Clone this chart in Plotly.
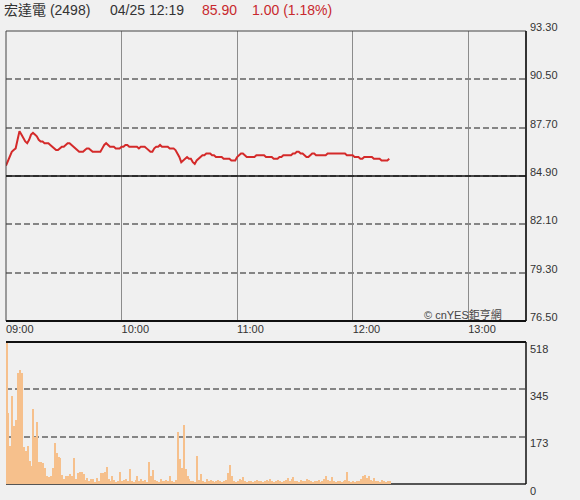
import plotly.graph_objects as go
import pandas as pd

# ---------------- data ----------------
stock_name = "宏達電 (2498)"
quote_time = "04/25 12:19"
last_price = "85.90"
change_text = "1.00 (1.18%)"
copyright_text = "© cnYES鉅亨網"
prev_close = 84.90
session_start = "2024-04-25 09:00"
session_end = "2024-04-25 13:30"
price_ticks = [76.50, 79.30, 82.10, 84.90, 87.70, 90.50, 93.30]
volume_ticks = [0, 173, 345, 518]
time_tick_labels = ["09:00", "10:00", "11:00", "12:00", "13:00"]

prices = [
    85.5, 85.8, 86.1, 86.3, 86.4, 86.5, 87.0, 87.5, 87.3, 87.1,
    86.9, 86.8, 87.0, 87.3, 87.4, 87.3, 87.2, 87.0, 86.9, 86.9,
    86.8, 86.8, 86.8, 86.7, 86.6, 86.5, 86.4, 86.4, 86.5, 86.6,
    86.6, 86.7, 86.8, 86.8, 86.7, 86.6, 86.5, 86.4, 86.3, 86.3,
    86.3, 86.4, 86.5, 86.5, 86.4, 86.3, 86.3, 86.3, 86.3, 86.3,
    86.5, 86.7, 86.8, 86.7, 86.6, 86.6, 86.6, 86.5, 86.5, 86.5,
    86.6, 86.6, 86.7, 86.7, 86.6, 86.6, 86.6, 86.6, 86.6, 86.5,
    86.6, 86.6, 86.6, 86.5, 86.4, 86.3, 86.3, 86.5, 86.6, 86.6,
    86.7, 86.6, 86.6, 86.6, 86.6, 86.5, 86.5, 86.5, 86.4, 86.2,
    86.0, 85.7, 85.8, 85.9, 86.0, 85.9, 85.9, 85.7, 85.6, 85.8,
    85.9, 86.0, 86.1, 86.1, 86.2, 86.2, 86.2, 86.1, 86.1, 86.0,
    86.0, 86.0, 86.0, 85.9, 85.9, 85.9, 85.9, 85.8, 85.8, 85.8,
    86.0, 86.1, 86.2, 86.2, 86.1, 86.0, 86.0, 86.0, 86.0, 86.0,
    86.1, 86.1, 86.1, 86.1, 86.1, 86.0, 86.0, 86.0, 86.0, 85.9,
    85.9, 85.9, 86.0, 86.0, 86.1, 86.1, 86.1, 86.1, 86.1, 86.2,
    86.2, 86.3, 86.3, 86.2, 86.2, 86.1, 86.0, 86.0, 86.1, 86.2,
    86.2, 86.1, 86.1, 86.1, 86.1, 86.1, 86.1, 86.2, 86.2, 86.2,
    86.2, 86.2, 86.2, 86.2, 86.2, 86.2, 86.2, 86.1, 86.1, 86.1,
    86.1, 86.0, 86.0, 86.0, 85.9, 85.9, 86.0, 86.0, 86.0, 86.0,
    86.0, 85.9, 85.9, 85.9, 85.9, 85.8, 85.8, 85.8, 85.8, 85.9,
]

volumes = [
    518, 260, 140, 320, 210, 235, 405, 415, 405, 135,
    120, 140, 85, 65, 275, 170, 225, 80, 80, 75,
    60, 28, 25, 28, 60, 150, 112, 100, 95, 32,
    18, 30, 28, 35, 30, 95, 20, 40, 45, 42,
    35, 15, 22, 10, 20, 18, 8, 22, 12, 40,
    40, 45, 62, 20, 10, 30, 15, 8, 12, 43,
    10, 15, 18, 12, 55, 10, 8, 15, 30, 10,
    20, 12, 15, 8, 80, 30, 52, 15, 10, 8,
    20, 12, 10, 15, 10, 30, 10, 8, 15, 188,
    90, 60, 215, 55, 30, 20, 12, 10, 8, 102,
    15, 38, 12, 8, 20, 10, 15, 12, 8, 12,
    15, 10, 8, 12, 15, 40, 68, 30, 12, 8,
    10, 20, 15, 25, 12, 8, 10, 12, 8, 10,
    15, 10, 12, 8, 10, 15, 12, 20, 10, 8,
    12, 15, 10, 8, 12, 15, 22, 10, 18, 25,
    12, 10, 8, 15, 10, 12, 20, 15, 10, 8,
    12, 10, 15, 8, 12, 20, 28, 15, 10, 25,
    12, 8, 10, 12, 8, 10, 15, 42, 10, 8,
    12, 8, 10, 12, 20, 28, 32, 22, 30, 15,
    10, 22, 10, 12, 8, 15, 10, 8, 12, 10,
]

# ---------------- figure ----------------
times = pd.date_range(session_start, periods=len(prices), freq="min")
tick_times = pd.date_range(session_start, periods=len(time_tick_labels), freq="60min")

BG = "#f0f0f0"
TXT = "#333333"
RED = "#c8282d"
FONT = "Liberation Sans, Arial, Noto Sans CJK TC, sans-serif"

fig = go.Figure()
fig.add_trace(go.Scatter(
    x=times, y=prices, mode="lines",
    line=dict(color="#d42a2a", width=2),
    xaxis="x", yaxis="y", showlegend=False, hoverinfo="skip",
))
fig.add_trace(go.Bar(
    x=times, y=volumes, width=36000, offset=0,
    marker=dict(color="#f6c08c", line=dict(width=0)),
    xaxis="x2", yaxis="y2", showlegend=False, hoverinfo="skip",
))

W, H = 580, 500
ML, MR, MT, MB = 6, 54, 31, 16
PW = W - ML - MR
PH = H - MT - MB
price_bottom_px, vol_top_px = 321, 342
price_dom = [(H - MB - price_bottom_px) / PH, 1]
vol_dom = [0, (H - MB - vol_top_px) / PH]

def px_x(p):
    return (p - ML) / PW

def px_y(p):
    return (H - MB - p) / PH

grid_common = dict(
    side="right", showgrid=True, gridcolor="#858585", gridwidth=1.5,
    griddash="6px,3px", zeroline=False, ticks="", showline=False,
    tickfont=dict(family=FONT, size=11, color=TXT), ticklabelstandoff=3,
)

fig.update_layout(
    width=W, height=H,
    margin=dict(l=ML, r=MR, t=MT, b=MB, autoexpand=False),
    paper_bgcolor=BG, plot_bgcolor=BG,
    bargap=0,
    xaxis=dict(
        anchor="y", domain=[0, 1], type="date",
        range=[session_start, session_end],
        tickvals=tick_times, ticktext=time_tick_labels,
        ticklabelposition="outside right",
        showgrid=True, gridcolor="#8c8c8c", gridwidth=1,
        zeroline=False, ticks="", showline=False,
        tickfont=dict(family=FONT, size=11, color=TXT),
    ),
    xaxis2=dict(
        anchor="y2", domain=[0, 1], type="date", matches="x",
        range=[session_start, session_end],
        showticklabels=False, showgrid=False, zeroline=False, ticks="",
    ),
    yaxis=dict(
        domain=price_dom, range=[price_ticks[0], price_ticks[-1]],
        tickvals=price_ticks, ticktext=[f"{v:.2f}" for v in price_ticks],
        ticklabelshift=-4, **grid_common,
    ),
    yaxis2=dict(
        domain=vol_dom, range=[volume_ticks[0], volume_ticks[-1]],
        tickvals=volume_ticks, ticktext=[str(v) for v in volume_ticks],
        ticklabelshift=7, **grid_common,
    ),
)

shapes = [
    # price panel frame
    dict(type="rect", xref="x domain", yref="y domain", x0=0, x1=1, y0=0, y1=1,
         line=dict(color="#444444", width=1)),
    dict(type="line", xref="x domain", yref="y domain", x0=0, x1=1, y0=0, y1=0,
         line=dict(color="#111111", width=2)),
    dict(type="line", xref="x domain", yref="y domain", x0=1, x1=1, y0=0, y1=1,
         line=dict(color="#111111", width=1.5)),
    # previous close
    dict(type="line", xref="x domain", yref="y", x0=0, x1=1, y0=prev_close, y1=prev_close,
         line=dict(color="#111111", width=1.5)),
    # volume panel frame
    dict(type="line", xref="x2 domain", yref="y2 domain", x0=0, x1=1, y0=1, y1=1,
         line=dict(color="#111111", width=2)),
    dict(type="line", xref="x2 domain", yref="y2 domain", x0=1, x1=1, y0=0, y1=1,
         line=dict(color="#111111", width=1.5)),
    dict(type="line", xref="x2 domain", yref="y2 domain", x0=0, x1=1, y0=0, y1=0,
         line=dict(color="#222222", width=1.5), layer="below"),
]
fig.update_layout(shapes=shapes)

hy = px_y(10)
ann = [
    dict(text=stock_name, x=px_x(2), size=14, color=TXT),
    dict(text=quote_time, x=px_x(108), size=14, color=TXT),
    dict(text=last_price, x=px_x(200), size=14, color=RED),
    dict(text=change_text, x=px_x(250), size=14, color=RED),
]
for a in ann:
    fig.add_annotation(text=a["text"], xref="paper", yref="paper", x=a["x"], y=hy,
                       xanchor="left", yanchor="middle", showarrow=False,
                       font=dict(family=FONT, size=a["size"], color=a["color"]))
fig.add_annotation(text=copyright_text, xref="paper", yref="paper",
                   x=px_x(504), y=px_y(314), xanchor="right", yanchor="middle",
                   showarrow=False, font=dict(family=FONT, size=11, color="#444444"))

fig.write_html(
    "out.html",
    config={"displayModeBar": False},
    post_script="document.body.style.margin='0';document.body.style.background='#f0f0f0';",
)
